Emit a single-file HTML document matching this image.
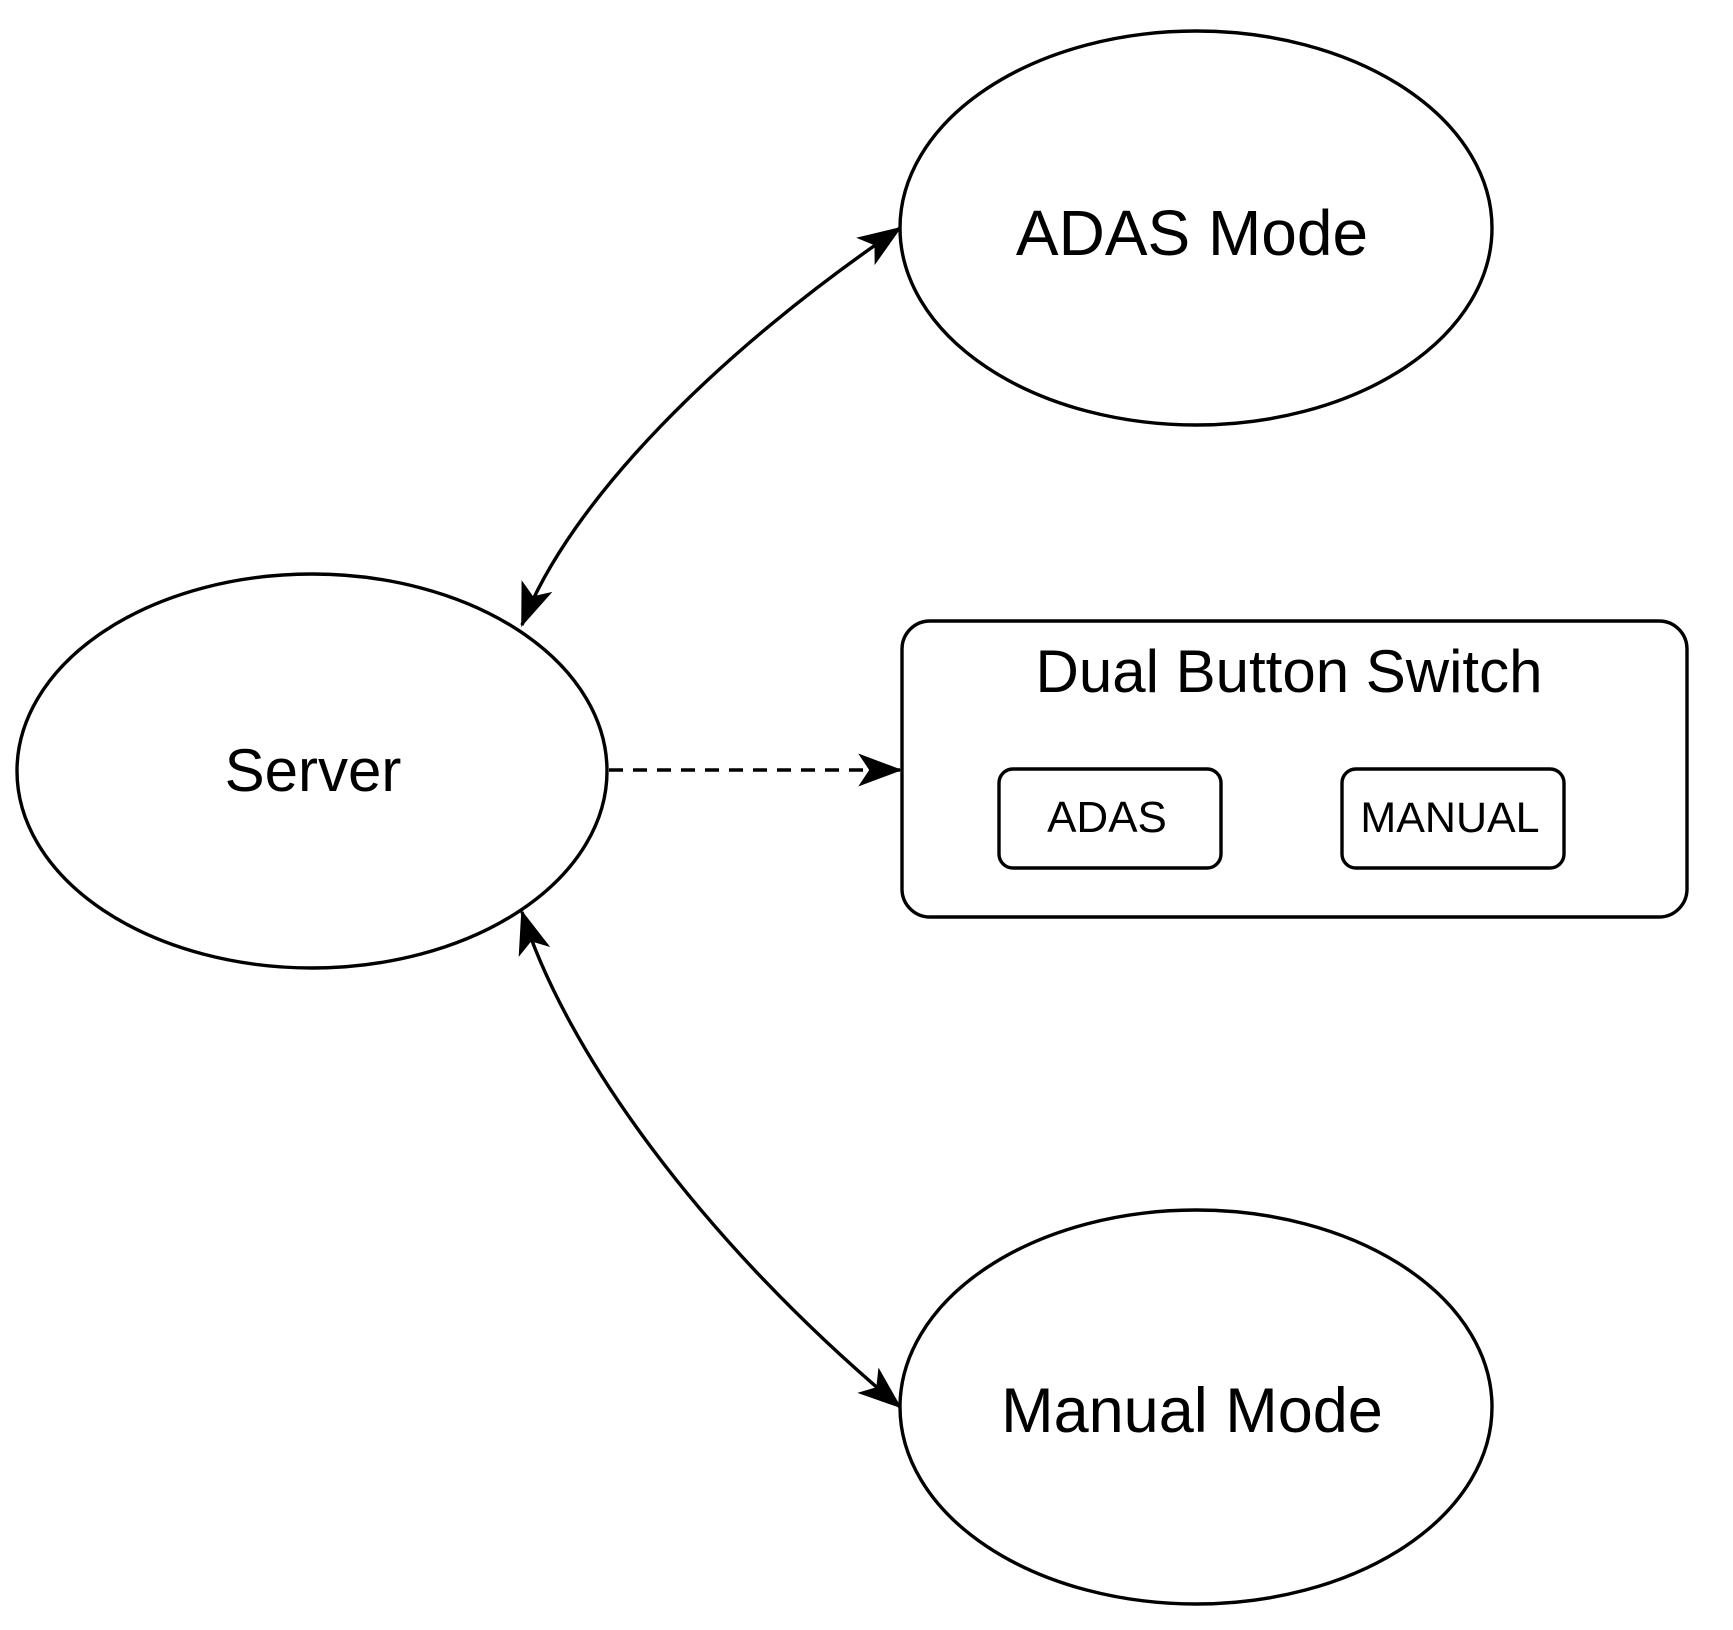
<!DOCTYPE html>
<html><head><style>html,body{margin:0;padding:0;background:#fff}svg{display:block}</style></head>
<body>
<svg width="1733" height="1630" viewBox="0 0 1733 1630" xmlns="http://www.w3.org/2000/svg" font-family="'Liberation Sans', Arial, sans-serif">
<defs>
<marker id="a" viewBox="0 0 40 30" refX="38" refY="15" markerWidth="44" markerHeight="36" markerUnits="userSpaceOnUse" orient="auto-start-reverse">
<path d="M0,0 L40,15 L0,30 L10,15 Z" fill="#000"/>
</marker>
</defs>
<g fill="none" stroke="#000" stroke-width="3.4">
<ellipse cx="1196" cy="228" rx="296" ry="197"/>
<ellipse cx="312" cy="771" rx="295" ry="197"/>
<ellipse cx="1196" cy="1407" rx="296" ry="197"/>
<rect x="902" y="621" width="785" height="296" rx="28"/>
<rect x="999" y="769" width="222" height="99" rx="14"/>
<rect x="1342" y="769" width="222" height="99" rx="14"/>
<path d="M522,625 C570,500 720,350 900,228" marker-start="url(#a)" marker-end="url(#a)"/>
<path d="M522,912 C565,1050 700,1240 900,1407" marker-start="url(#a)" marker-end="url(#a)"/>
<path d="M609,770 L900,770" stroke-dasharray="14,10" marker-end="url(#a)"/>
</g>
<g fill="#000" text-anchor="middle">
<text x="1192" y="255" font-size="64">ADAS Mode</text>
<text x="313" y="791" font-size="60">Server</text>
<text x="1192" y="1432" font-size="63">Manual Mode</text>
<text x="1289" y="692" font-size="60">Dual Button Switch</text>
<text x="1107" y="832" font-size="44">ADAS</text>
<text x="1450" y="832" font-size="43">MANUAL</text>
</g>
</svg>
</body></html>
